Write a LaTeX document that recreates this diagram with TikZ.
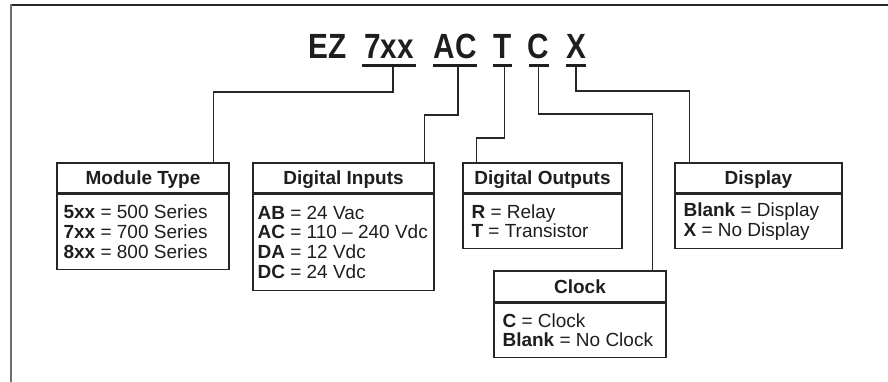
\documentclass[tikz,border=0pt]{standalone}
\usepackage{fontspec}
\setmainfont{Liberation Sans}
\newfontfamily\condfont[FakeStretch=0.85]{Liberation Sans}
\definecolor{ink}{HTML}{1E1E1E}
\definecolor{linec}{HTML}{262626}
\definecolor{framegray}{HTML}{6E6E6E}
\begin{document}
\begin{tikzpicture}[x=1pt,y=-1pt,
  frametop/.style={draw=linec, line width=1.6},
  frameleft/.style={draw=framegray, line width=2.2},
  code/.style={anchor=base, inner sep=0, text=ink, font=\fontsize{35}{35}\selectfont\condfont\bfseries},
  ubar/.style={fill=ink, inner sep=0, minimum height=3, draw=none},
  hdr/.style={draw=linec, line width=1.3, inner sep=0, text=ink, text height=13.6, text depth=0, minimum height=30, font=\fontsize{19}{20}\selectfont\bfseries},
  bdy/.style={draw=linec, line width=1.3, inner sep=0},
  btxt/.style={align=left, anchor=west, inner sep=0, text=ink, font=\fontsize{19}{19.7}\selectfont},
  conn/.style={draw=linec, line width=1.2}
]
\useasboundingbox (0,0) rectangle (888,382);
% frame
\draw[frametop] (10,5) -- (888,5);
\draw[frameleft] (11,4.2) -- (11,382);

% code line
\node[code] (tEZ) at (327.5,59) {EZ};
\node[code] (t7)  at (389,59) {7xx};
\node[code] (tAC) at (455,59) {AC};
\node[code] (tT)  at (502.5,59) {T};
\node[code] (tC)  at (538.5,59) {C};
\node[code] (tX)  at (576,59) {X};
\node[ubar, minimum width=54] (u7)  at (389,66) {};
\node[ubar, minimum width=44] (uAC) at (455,66) {};
\node[ubar, minimum width=19] (uT)  at (502.5,66) {};
\node[ubar, minimum width=20] (uC)  at (538.5,66) {};
\node[ubar, minimum width=20] (uX)  at (576,66) {};

% Module Type
\node[hdr, minimum width=172] (mod) at (143,178) {Module Type};
\node[bdy, minimum width=172, minimum height=75, anchor=north] (modb) at (mod.south) {};
\node[btxt] (modt) at ([xshift=7pt]modb.west) {\textbf{5xx} = 500 Series\\\textbf{7xx} = 700 Series\\\textbf{8xx} = 800 Series};

% Digital Inputs
\node[hdr, minimum width=181] (din) at (343.5,178) {Digital Inputs};
\node[bdy, minimum width=181, minimum height=96, anchor=north] (dinb) at (din.south) {};
\node[btxt] (dint) at ([xshift=5pt]dinb.west) {\textbf{AB} = 24 Vac\\\textbf{AC} = 110 – 240 Vdc\\\textbf{DA} = 12 Vdc\\\textbf{DC} = 24 Vdc};

% Digital Outputs
\node[hdr, minimum width=159] (dout) at (542.5,178) {Digital Outputs};
\node[bdy, minimum width=159, minimum height=54, anchor=north] (doutb) at (dout.south) {};
\node[btxt] (doutt) at ([xshift=9pt]doutb.west) {\textbf{R} = Relay\\\textbf{T} = Transistor};

% Display
\node[hdr, minimum width=167] (disp) at (758.5,178) {Display};
\node[bdy, minimum width=167, minimum height=54, anchor=north] (dispb) at (disp.south) {};
\node[btxt] (dispt) at ([xshift=9pt]dispb.west) {\textbf{Blank} = Display\\\textbf{X} = No Display};

% Clock
\node[hdr, minimum width=172, minimum height=31] (clk) at (580,286.5) {Clock};
\node[bdy, minimum width=172, minimum height=54, anchor=north] (clkb) at (clk.south) {};
\node[btxt] (clkt) at ([xshift=9pt]clkb.west) {\textbf{C} = Clock\\\textbf{Blank} = No Clock};

% connectors
\draw[conn] ([xshift=4pt]u7.center) -- ++(0,26) -| ([xshift=-16pt]mod.north east);
\draw[conn] ([xshift=3pt]uAC.center) -- ++(0,49) -| ([xshift=-10pt]din.north east);
\draw[conn] ([xshift=2pt]uT.center) -- ++(0,72) -| ([xshift=14pt]dout.north west);
\draw[conn] (uC.center) -- ++(0,48) -| ([xshift=-14pt]clk.north east);
\draw[conn] (uX.center) -- ++(0,25) -| ([xshift=15pt]disp.north west);
\end{tikzpicture}
\end{document}
